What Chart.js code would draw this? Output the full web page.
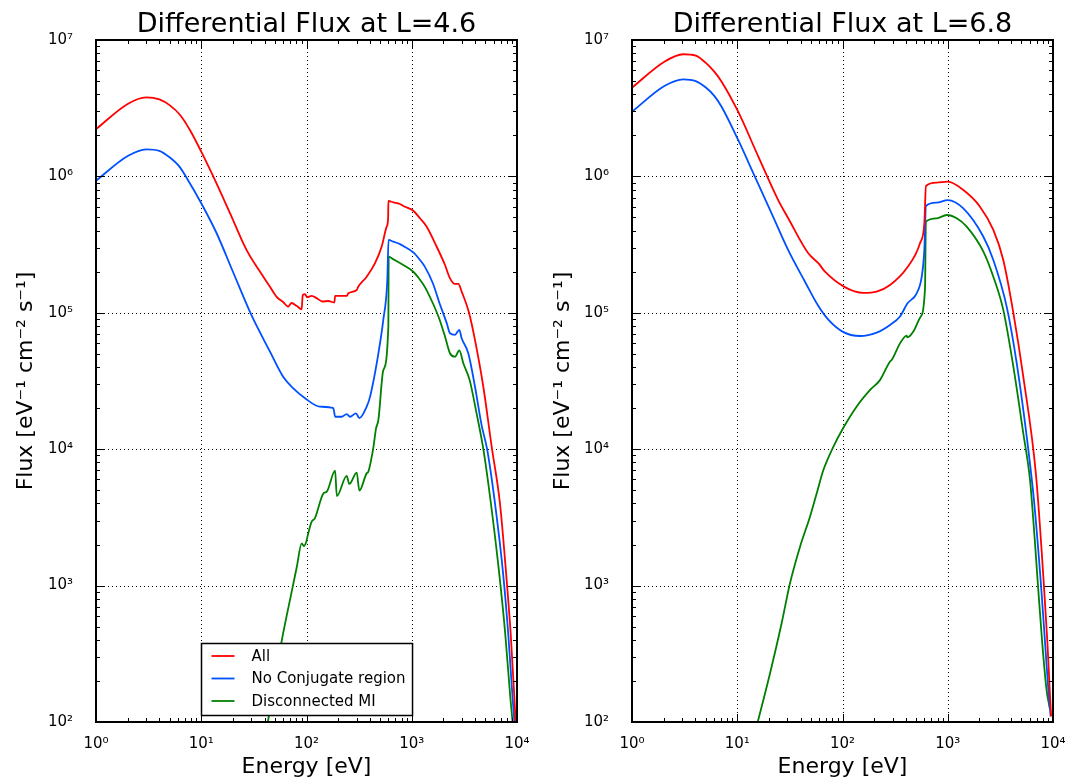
<!DOCTYPE html>
<html>
<head>
<meta charset="utf-8">
<script src="https://cdn.jsdelivr.net/npm/chart.js@4.4.1/dist/chart.umd.min.js"></script>
<style>
  body { margin: 0; background: #fff; }
  #wrap { position: relative; width: 1081px; height: 782px; }
  canvas { position: absolute; top: 0; }
</style>
</head>
<body>
<div id="wrap">
  <canvas id="c46" width="540" height="782" style="left:0"></canvas>
  <canvas id="c68" width="541" height="782" style="left:540px"></canvas>
</div>
<script>
// tick positions (decades)
const xTicks = [1, 10, 100, 1000, 10000];
const yTicks = [1e2, 1e3, 1e4, 1e5, 1e6, 1e7];

// L = 4.6
const energyAll46 = [1, 2, 3, 4, 5, 6.3, 7.8, 10, 13, 18.8, 27, 38.9, 45, 52, 60, 67, 72, 81, 90, 92, 97, 101, 112, 125, 142, 161, 184, 187, 241, 250, 300, 310, 373, 448, 518, 578, 596, 600, 668, 773, 832, 1035, 1197, 1387, 1726, 2070, 2308, 2575, 2770, 2980, 3500, 3990, 4786, 5750, 6890, 7900, 8700, 9400, 9850];
const fluxAll46 = [2.22e6, 3.4e6, 3.8e6, 3.67e6, 3.33e6, 2.82e6, 2.19e6, 1.52e6, 1.0e6, 5.36e5, 2.88e5, 1.84e5, 1.55e5, 1.31e5, 1.2e5, 1.11e5, 1.18e5, 1.12e5, 1.06e5, 1.35e5, 1.37e5, 1.3e5, 1.33e5, 1.28e5, 1.21e5, 1.22e5, 1.19e5, 1.33e5, 1.33e5, 1.39e5, 1.47e5, 1.55e5, 1.84e5, 2.31e5, 3.06e5, 4.28e5, 4.9e5, 6.6e5, 6.46e5, 6.28e5, 6.07e5, 5.6e5, 4.93e5, 4.28e5, 3.05e5, 2.24e5, 1.79e5, 1.63e5, 1.63e5, 1.43e5, 1.0e5, 6.3e4, 2.87e4, 1.04e4, 4.0e3, 1.2e3, 450, 160, 80];

const energyNoConj46 = [1, 2, 3, 4, 5, 6.2, 7.3, 10, 14, 20, 30, 45, 60, 75, 97, 134, 180, 187, 216, 241, 259, 295, 318, 373, 402, 465, 537, 586, 602, 668, 773, 832, 1035, 1197, 1330, 1590, 1840, 2150, 2308, 2575, 2830, 2980, 3445, 3990, 4610, 5200, 6180, 7400, 8280, 9080, 9750];
const fluxNoConj46 = [9.3e5, 1.41e6, 1.58e6, 1.54e6, 1.38e6, 1.18e6, 9.7e5, 6.36e5, 3.83e5, 2.0e5, 9.6e4, 5.19e4, 3.4e4, 2.79e4, 2.36e4, 2.05e4, 2.0e4, 1.73e4, 1.73e4, 1.81e4, 1.73e4, 1.83e4, 1.69e4, 2.05e4, 2.43e4, 4.27e4, 8.9e4, 1.74e5, 3.42e5, 3.32e5, 3.19e5, 3.09e5, 2.77e5, 2.44e5, 2.18e5, 1.64e5, 1.17e5, 8.4e4, 7.08e4, 6.9e4, 7.5e4, 6.5e4, 5.05e4, 2.87e4, 1.5e4, 1.0e4, 4.0e3, 1.2e3, 430, 150, 75];

const energyDisc46 = [40, 58, 74, 81, 90, 94.5, 99, 104, 112, 120, 145, 156, 187, 194, 241, 255, 300, 318, 373, 385, 431, 458, 482, 537, 599, 604, 668, 832, 1035, 1170, 1330, 1590, 1840, 2070, 2308, 2575, 2830, 3090, 3550, 4130, 4790, 5540, 6650, 7700, 8650, 9400];
const fluxDisc46 = [72, 390, 982, 1.38e3, 2.04e3, 1.95e3, 2.07e3, 2.42e3, 2.94e3, 3.11e3, 4.75e3, 4.89e3, 6.97e3, 4.54e3, 6.37e3, 5.56e3, 6.73e3, 4.97e3, 6.65e3, 6.8e3, 1.02e4, 1.42e4, 1.64e4, 3.8e4, 7.9e4, 2.58e5, 2.47e5, 2.24e5, 2.0e5, 1.79e5, 1.55e5, 1.17e5, 8.9e4, 6.7e4, 5.05e4, 4.77e4, 5.3e4, 4.27e4, 3.21e4, 1.83e4, 1.0e4, 4.5e3, 1.4e3, 460, 150, 75];

// L = 6.8
const energyAll68 = [1, 2.03, 3.07, 4.03, 5, 6.05, 7.1, 10.2, 15.9, 24.5, 30.5, 47.3, 58.9, 68.2, 104, 158, 211, 283, 407, 545, 599, 621, 785, 1000, 1406, 2024, 2710, 3370, 4200, 5220, 6890, 8200, 8850, 9350, 9600];
const fluxAll68 = [4.47e6, 6.93e6, 7.86e6, 7.67e6, 6.82e6, 5.86e6, 4.95e6, 2.98e6, 1.39e6, 6.7e5, 4.93e5, 2.73e5, 2.31e5, 2.0e5, 1.55e5, 1.4e5, 1.43e5, 1.6e5, 2.12e5, 3.23e5, 4.53e5, 8.5e5, 9.0e5, 9.15e5, 7.94e5, 6.0e5, 4.05e5, 2.44e5, 1.0e5, 3.4e4, 6.5e3, 1.0e3, 380, 160, 110];

const energyNoConj68 = [1, 2.03, 3.07, 4.03, 5, 6.05, 7.1, 10.2, 14.7, 21.2, 30.5, 44, 59, 73.3, 100, 147, 211, 283, 352, 413, 507, 566, 599, 621, 785, 1000, 1406, 2180, 2710, 3630, 4520, 5820, 6640, 7700, 8450, 9150, 9500];
const fluxNoConj68 = [2.98e6, 4.6e6, 5.15e6, 5.0e6, 4.5e6, 3.89e6, 3.24e6, 1.85e6, 9.97e5, 5.36e5, 2.88e5, 1.69e5, 1.12e5, 8.9e4, 7.28e4, 6.76e4, 7.16e4, 8.15e4, 9.4e4, 1.17e5, 1.39e5, 1.84e5, 2.88e5, 6.07e5, 6.42e5, 6.71e5, 5.83e5, 3.61e5, 2.44e5, 1.11e5, 4.27e4, 1.0e4, 4.0e3, 1.0e3, 360, 150, 110];

const energyDisc68 = [15, 20.5, 26.4, 31.7, 39.5, 49.1, 56.9, 65.7, 81.8, 100, 136, 183, 227, 283, 293, 352, 407, 413, 471, 545, 608, 620, 785, 977, 1217, 1513, 2180, 2710, 3370, 4200, 5220, 6040, 6700, 7200, 7900, 8700, 9300];
const fluxDisc68 = [88, 228, 530, 1.04e3, 1.93e3, 3.2e3, 4.75e3, 7.0e3, 1.04e4, 1.4e4, 2.05e4, 2.72e4, 3.21e4, 4.4e4, 4.5e4, 5.97e4, 6.8e4, 6.6e4, 7.28e4, 9.2e4, 1.5e5, 4.66e5, 4.93e5, 5.21e5, 4.93e5, 4.28e5, 2.81e5, 1.84e5, 1.05e5, 4.03e4, 1.31e4, 6.0e3, 2.2e3, 1.0e3, 380, 170, 127];

const labels = ['All', 'No Conjugate region', 'Disconnected MI'];
const colors = ['#ff0000', 'rgb(0,80,255)', 'rgb(0,128,0)'];

Chart.defaults.font.family = '"DejaVu Sans"';
Chart.defaults.color = '#000';

const sup = {'0': '\u2070', '1': '\u00b9', '2': '\u00b2', '3': '\u00b3', '4': '\u2074', '5': '\u2075', '6': '\u2076', '7': '\u2077'};
const powLabel = v => '10' + sup[String(Math.round(Math.log10(v)))];

function pts(es, fs) {
    return es.map((e, i) => ({x: e, y: fs[i]}));
}

// grid, inward ticks, frame, title and legend drawn like the matplotlib original
const decor = {
    id: 'decor',
    beforeDatasetsDraw(chart) {
        const {ctx, chartArea: a, scales} = chart;
        ctx.save();
        ctx.strokeStyle = '#000';
        ctx.lineWidth = 1;
        ctx.setLineDash([1, 3]);
        xTicks.forEach(v => {
            const px = Math.round(scales.x.getPixelForValue(v)) + 0.5;
            if (px <= a.left + 2 || px >= a.right - 2) return;
            ctx.beginPath(); ctx.moveTo(px, a.top); ctx.lineTo(px, a.bottom); ctx.stroke();
        });
        yTicks.forEach(v => {
            const py = Math.round(scales.y.getPixelForValue(v)) + 0.5;
            if (py <= a.top + 2 || py >= a.bottom - 2) return;
            ctx.beginPath(); ctx.moveTo(a.left, py); ctx.lineTo(a.right, py); ctx.stroke();
        });
        ctx.restore();
    },
    afterDraw(chart, args, opts) {
        const {ctx, chartArea: a, scales} = chart;
        ctx.save();
        ctx.strokeStyle = '#000';
        ctx.lineWidth = 1;
        const tick = (s, v, len) => {
            const p = Math.round(s.getPixelForValue(v)) + 0.5;
            ctx.beginPath();
            if (s.axis === 'x') {
                ctx.moveTo(p, a.bottom); ctx.lineTo(p, a.bottom - len);
                ctx.moveTo(p, a.top); ctx.lineTo(p, a.top + len);
            } else {
                ctx.moveTo(a.left, p); ctx.lineTo(a.left + len, p);
                ctx.moveTo(a.right, p); ctx.lineTo(a.right - len, p);
            }
            ctx.stroke();
        };
        [scales.x, scales.y].forEach(s => {
            const lo = Math.round(Math.log10(s.min)), hi = Math.round(Math.log10(s.max));
            for (let d = lo; d <= hi; d++) {
                tick(s, Math.pow(10, d), 8);
                if (d < hi) for (let k = 2; k < 10; k++) tick(s, k * Math.pow(10, d), 4);
            }
        });
        ctx.lineWidth = 2;
        ctx.strokeRect(a.left, a.top, a.right - a.left, a.bottom - a.top);

        // title
        ctx.fillStyle = '#000';
        ctx.font = '27px "DejaVu Sans"';
        ctx.textAlign = 'center';
        ctx.textBaseline = 'alphabetic';
        ctx.fillText(opts.title, (a.left + a.right) / 2, 32);

        // legend, lower center
        if (opts.legend) {
            ctx.font = '15px "DejaVu Sans"';
            const sets = chart.data.datasets;
            const tw = Math.max(...sets.map(d => ctx.measureText(d.label).width));
            const w = 50 + tw + 7, h = 72;
            const x0 = Math.round((a.left + a.right) / 2 - w / 2) + 0.5;
            const y0 = Math.round(a.bottom - 7 - h) + 0.5;
            ctx.fillStyle = '#fff';
            ctx.fillRect(x0, y0, w, h);
            ctx.lineWidth = 1.5;
            ctx.strokeStyle = '#000';
            ctx.strokeRect(x0, y0, w, h);
            sets.forEach((d, i) => {
                const yy = y0 + 12.5 + i * 22.5;
                ctx.strokeStyle = d.borderColor;
                ctx.lineWidth = 1.8;
                ctx.beginPath(); ctx.moveTo(x0 + 10, yy); ctx.lineTo(x0 + 33, yy); ctx.stroke();
                ctx.fillStyle = '#000';
                ctx.textAlign = 'left';
                ctx.textBaseline = 'middle';
                ctx.fillText(d.label, x0 + 50, yy + 1);
            });
        }
        ctx.restore();
    }
};

function makeChart(id, title, series, opt) {
    const datasets = series.map((s, i) => ({
        label: labels[i],
        data: pts(s[0], s[1]),
        borderColor: colors[i],
        backgroundColor: colors[i],
        borderWidth: 1.8,
        pointRadius: 0,
        cubicInterpolationMode: 'monotone',
        fill: false
    }));
    return new Chart(document.getElementById(id), {
        type: 'line',
        data: {datasets: datasets},
        plugins: [decor],
        options: {
            responsive: false,
            animation: false,
            layout: {padding: {top: 40, left: 0, right: opt.padRight, bottom: 0}},
            plugins: {
                legend: {display: false},
                title: {display: false},
                tooltip: {enabled: false},
                decor: {title: title, legend: opt.legend}
            },
            scales: {
                x: {
                    type: 'logarithmic',
                    min: 1, max: 1e4,
                    grid: {display: false},
                    border: {display: false},
                    afterBuildTicks: s => { s.ticks = xTicks.map(v => ({value: v})); },
                    afterFit: s => { s.height = 60; },
                    ticks: {callback: v => powLabel(v), font: {size: 15}, padding: 5, maxRotation: 0, autoSkip: false},
                    title: {display: true, text: 'Energy [eV]', font: {size: 22}, padding: {top: 0, bottom: 2}}
                },
                y: {
                    type: 'logarithmic',
                    min: 1e2, max: 1e7,
                    grid: {display: false},
                    border: {display: false},
                    afterBuildTicks: s => { s.ticks = yTicks.map(v => ({value: v})); },
                    afterFit: s => { s.width = opt.yWidth; },
                    ticks: {callback: v => powLabel(v), font: {size: 15}, padding: 15, autoSkip: false},
                    title: {display: true, text: 'Flux [eV\u207b\u00b9 cm\u207b\u00b2 s\u207b\u00b9]', font: {size: 22}, padding: {top: opt.labelPad, bottom: 0}}
                }
            }
        }
    });
}

makeChart('c46', 'Differential Flux at L=4.6', [
    [energyAll46, fluxAll46],
    [energyNoConj46, fluxNoConj46],
    [energyDisc46, fluxDisc46]
], {padRight: 23, yWidth: 96, labelPad: 13, legend: true});

makeChart('c68', 'Differential Flux at L=6.8', [
    [energyAll68, fluxAll68],
    [energyNoConj68, fluxNoConj68],
    [energyDisc68, fluxDisc68]
], {padRight: 28, yWidth: 92, labelPad: 10, legend: false});
</script>
</body>
</html>
